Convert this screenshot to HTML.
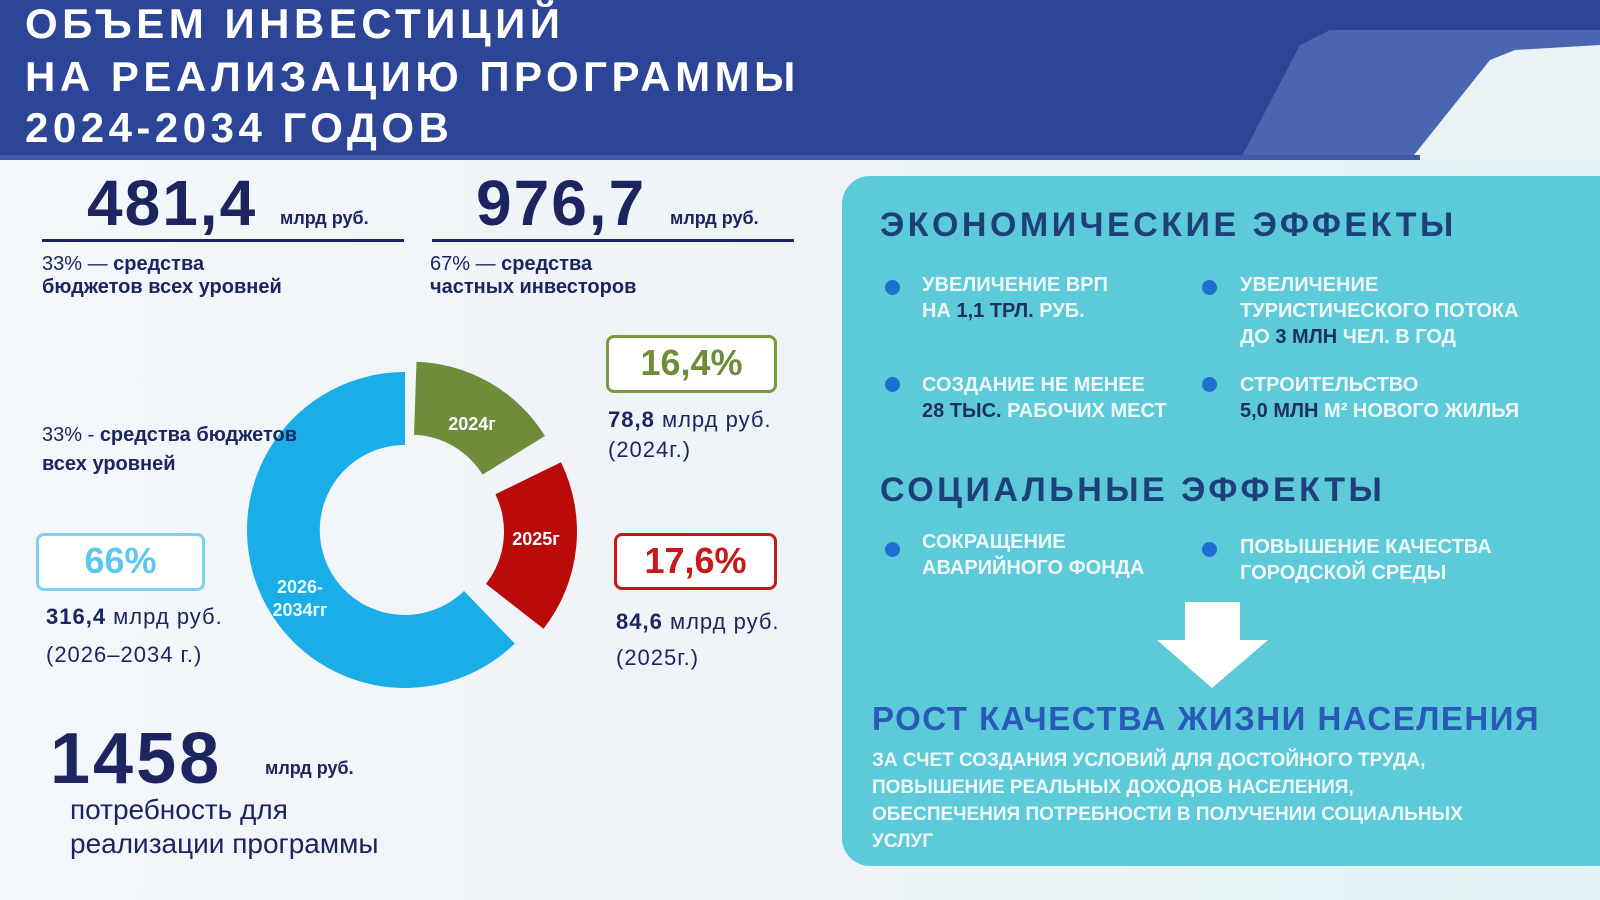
<!DOCTYPE html>
<html><head><meta charset="utf-8"><style>
*{margin:0;padding:0;box-sizing:border-box}
body{width:1600px;height:900px;overflow:hidden;position:relative;font-family:"Liberation Sans","DejaVu Sans",sans-serif;background:linear-gradient(90deg,#f4f7fa 0%,#eef3f7 50%,#e3f3f5 100%)}
.a{position:absolute;white-space:nowrap}
.t{color:#fff;font-weight:bold;font-size:42px;letter-spacing:4.5px;left:25px}
.big{font-weight:bold;color:#1c2560;font-size:64px;letter-spacing:2px}
.u{font-weight:bold;color:#1c2560;font-size:18px}
.d{color:#1c2560;font-size:20px;line-height:23px}
.box{position:absolute;border:3px solid;border-radius:8px;font-weight:bold;font-size:36px;text-align:center;background:#fff}
.h{color:#1f3f7a;font-weight:bold;font-size:34px;letter-spacing:3.5px}
.b{color:#eef8fa;font-weight:bold;font-size:20px;line-height:26px}
.b i{font-style:normal;color:#1d2f5e}
.dot{position:absolute;width:15px;height:15px;border-radius:50%;background:#1f6fd0}
</style></head><body>
<svg class="a" style="left:0;top:0" width="1600" height="900">
<rect x="0" y="0" width="1600" height="160" fill="#2c4596"/>
<polygon points="1330,30 1600,30 1600,160 1240,160 1300,45" fill="#4a66b0"/>
<polygon points="1515,50 1600,45 1600,160 1410,160 1490,60" fill="#e9f3f6"/>
<rect x="0" y="155" width="1420" height="5" fill="#3f5aa6"/>
<rect x="842" y="176" width="790" height="690" rx="28" fill="#5ccad8"/>
<path d="M416.5,361.7 A158,158 0 0 1 545,435.9 L482.6,474.6 A85,85 0 0 0 414,434.7 Z" fill="#6f8c3a"/>
<path d="M561,462.3 A158,158 0 0 1 543.5,628.8 L486,583.9 A85,85 0 0 0 495.4,494.3 Z" fill="#bb0a0a"/>
<path d="M514.8,643.6 A158,158 0 1 1 405,372 L405,445 A85,85 0 1 0 464,591 Z" fill="#1aaee8"/>
<text x="472" y="430" fill="#fff" font-weight="bold" font-size="18" text-anchor="middle" font-family="Liberation Sans">2024г</text>
<text x="536" y="545" fill="#fff" font-weight="bold" font-size="18" text-anchor="middle" font-family="Liberation Sans">2025г</text>
<text x="300" y="593" fill="#e8f8ff" font-weight="bold" font-size="18" text-anchor="middle" font-family="Liberation Sans">2026-</text>
<text x="300" y="616" fill="#e8f8ff" font-weight="bold" font-size="18" text-anchor="middle" font-family="Liberation Sans">2034гг</text>
<polygon points="1185,602 1240,602 1240,640 1268,640 1212,688 1157,640 1185,640" fill="#fff"/>
</svg>
<div class="a t" style="top:0px">ОБЪЕМ ИНВЕСТИЦИЙ</div>
<div class="a t" style="top:53px">НА РЕАЛИЗАЦИЮ ПРОГРАММЫ</div>
<div class="a t" style="top:104px">2024-2034 ГОДОВ</div>

<div class="a big" style="left:87px;top:166px">481,4</div>
<div class="a u" style="left:280px;top:208px">млрд руб.</div>
<div class="a" style="left:42px;top:239px;width:362px;height:3px;background:#1c2560"></div>
<div class="a d" style="left:42px;top:253px">33% — <b>средства</b><br><b>бюджетов всех уровней</b></div>
<div class="a big" style="left:476px;top:166px">976,7</div>
<div class="a u" style="left:670px;top:208px">млрд руб.</div>
<div class="a" style="left:432px;top:239px;width:362px;height:3px;background:#1c2560"></div>
<div class="a d" style="left:430px;top:253px">67% — <b>средства</b><br><b>частных инвесторов</b></div>

<div class="a" style="left:42px;top:421px;color:#1c2560;font-size:20px;line-height:29px">33% - <b>средства бюджетов</b><br><b>всех уровней</b></div>

<div class="box" style="left:606px;top:335px;width:171px;height:58px;border-color:#7a9a40;color:#6f8c3a;line-height:50px">16,4%</div>
<div class="a" style="left:608px;top:405px;color:#1c2560;font-size:22px;line-height:30px;letter-spacing:1px"><b>78,8</b> млрд руб.<br>(2024г.)</div>
<div class="box" style="left:614px;top:533px;width:163px;height:57px;border-color:#c81818;color:#c81818;line-height:49px">17,6%</div>
<div class="a" style="left:616px;top:604px;color:#1c2560;font-size:22px;line-height:36px;letter-spacing:1px"><b>84,6</b> млрд руб.<br>(2025г.)</div>
<div class="box" style="left:36px;top:533px;width:169px;height:58px;border-color:#7fd0ee;color:#5cc8ee;line-height:50px">66%</div>
<div class="a" style="left:46px;top:598px;color:#1c2560;font-size:22px;line-height:38px;letter-spacing:1px"><b>316,4</b> млрд руб.<br>(2026–2034 г.)</div>

<div class="a big" style="left:50px;top:718px;font-size:72px;letter-spacing:3px">1458</div>
<div class="a u" style="left:265px;top:758px">млрд руб.</div>
<div class="a" style="left:70px;top:793px;color:#1c2560;font-size:28px;line-height:34px">потребность для<br>реализации программы</div>

<div class="a h" style="left:880px;top:206px">ЭКОНОМИЧЕСКИЕ ЭФФЕКТЫ</div>
<div class="dot" style="left:885px;top:280px"></div>
<div class="a b" style="left:922px;top:272px">УВЕЛИЧЕНИЕ ВРП<br>НА <i>1,1 ТРЛ.</i> РУБ.</div>
<div class="dot" style="left:1202px;top:280px"></div>
<div class="a b" style="left:1240px;top:272px">УВЕЛИЧЕНИЕ<br>ТУРИСТИЧЕСКОГО ПОТОКА<br>ДО <i>3 МЛН</i> ЧЕЛ. В ГОД</div>
<div class="dot" style="left:885px;top:377px"></div>
<div class="a b" style="left:922px;top:372px">СОЗДАНИЕ НЕ МЕНЕЕ<br><i>28 ТЫС.</i> РАБОЧИХ МЕСТ</div>
<div class="dot" style="left:1202px;top:377px"></div>
<div class="a b" style="left:1240px;top:372px">СТРОИТЕЛЬСТВО<br><i>5,0 МЛН</i> М² НОВОГО ЖИЛЬЯ</div>

<div class="a h" style="left:880px;top:471px">СОЦИАЛЬНЫЕ ЭФФЕКТЫ</div>
<div class="dot" style="left:885px;top:542px"></div>
<div class="a b" style="left:922px;top:529px">СОКРАЩЕНИЕ<br>АВАРИЙНОГО ФОНДА</div>
<div class="dot" style="left:1202px;top:542px"></div>
<div class="a b" style="left:1240px;top:534px">ПОВЫШЕНИЕ КАЧЕСТВА<br>ГОРОДСКОЙ СРЕДЫ</div>

<div class="a" style="left:872px;top:700px;color:#2a5ab8;font-weight:bold;font-size:33px;letter-spacing:1.5px">РОСТ КАЧЕСТВА ЖИЗНИ НАСЕЛЕНИЯ</div>
<div class="a" style="left:872px;top:747px;color:#eef8fa;font-weight:bold;font-size:19px;line-height:27px">ЗА СЧЕТ СОЗДАНИЯ УСЛОВИЙ ДЛЯ ДОСТОЙНОГО ТРУДА,<br>ПОВЫШЕНИЕ РЕАЛЬНЫХ ДОХОДОВ НАСЕЛЕНИЯ,<br>ОБЕСПЕЧЕНИЯ ПОТРЕБНОСТИ В ПОЛУЧЕНИИ СОЦИАЛЬНЫХ<br>УСЛУГ</div>
</body></html>
